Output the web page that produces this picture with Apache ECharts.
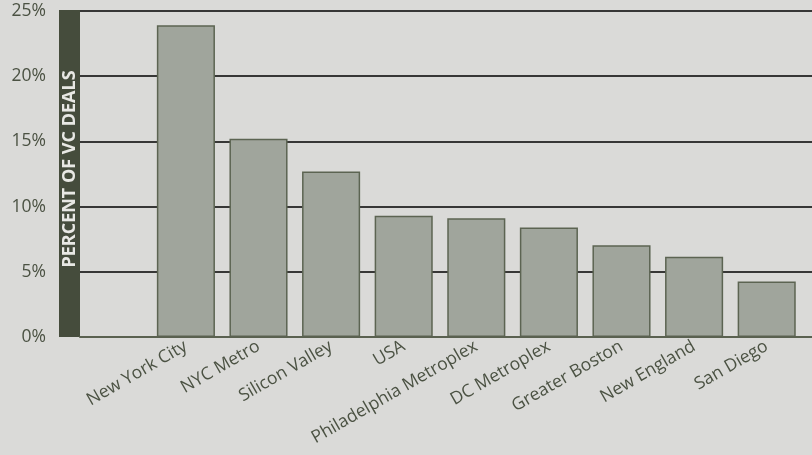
<!DOCTYPE html>
<html>
<head>
<meta charset="utf-8">
<script src="https://cdn.jsdelivr.net/npm/echarts@6/dist/echarts.min.js"></script>
<style>
html,body{margin:0;padding:0;background:#dadad8;}
#c{width:812px;height:455px;}
</style>
</head>
<body>
<div id="c"></div>
<script>
const categories = ["", "New York City", "NYC Metro", "Silicon Valley", "USA", "Philadelphia Metroplex", "DC Metroplex", "Greater Boston", "New England", "San Diego"];
const dealShare = [null, 23.9, 15.2, 12.7, 9.3, 9.1, 8.4, 7.03, 6.15, 4.25];
const yTicks = [0, 5, 10, 15, 20, 25];
const yAxisTitle = "PERCENT OF VC DEALS";

const chart = echarts.init(document.getElementById('c'), null, {renderer: 'canvas'});
const FONT = '"Open Sans", "Noto Sans", sans-serif';
const gTop = 11, gBottom = 118;
chart.setOption({
  backgroundColor: '#dadad8',
  animation: false,
  grid: [
    {left: 80, right: 0, top: gTop, bottom: gBottom},
    {left: 77, right: 9, top: gTop, bottom: gBottom}
  ],
  graphic: [
    {type: 'rect', left: 59, top: 10, shape: {width: 21, height: 327}, style: {fill: '#454c3c'}, z: 1},
    {type: 'text', x: 70, y: 169, rotation: Math.PI / 2,
      style: {text: yAxisTitle, fill: '#e8e8e4', font: 'bold 18px ' + FONT, align: 'center', verticalAlign: 'middle'}, z: 2}
  ],
  xAxis: [
    {type: 'category', gridIndex: 0, data: categories, axisLabel: {show: false}, axisTick: {show: false},
      axisLine: {show: true, lineStyle: {color: '#5a6150', width: 2}}, z: 5},
    {type: 'category', gridIndex: 1, data: categories, axisTick: {show: false}, axisLine: {show: false},
      axisLabel: {interval: 0, rotate: 30, margin: 8, color: '#4b5243', fontFamily: FONT, fontSize: 17.5}}
  ],
  yAxis: [
    {type: 'value', gridIndex: 0, min: yTicks[0], max: yTicks[yTicks.length - 1], interval: 5,
      axisLine: {show: false}, axisTick: {show: false},
      splitLine: {show: true, lineStyle: {color: '#000000', width: 1.5}},
      axisLabel: {formatter: v => v + '%', margin: 34, color: '#4b5243', fontFamily: FONT, fontSize: 17.5}},
    {type: 'value', gridIndex: 1, min: yTicks[0], max: yTicks[yTicks.length - 1], interval: 5,
      show: false, splitLine: {show: false}}
  ],
  series: [{
    type: 'bar', xAxisIndex: 1, yAxisIndex: 1, data: dealShare,
    barCategoryGap: '20%', z: 3,
    itemStyle: {color: '#a0a59c', borderColor: '#5c6452', borderWidth: 1.5}
  }]
});
</script>
</body>
</html>
